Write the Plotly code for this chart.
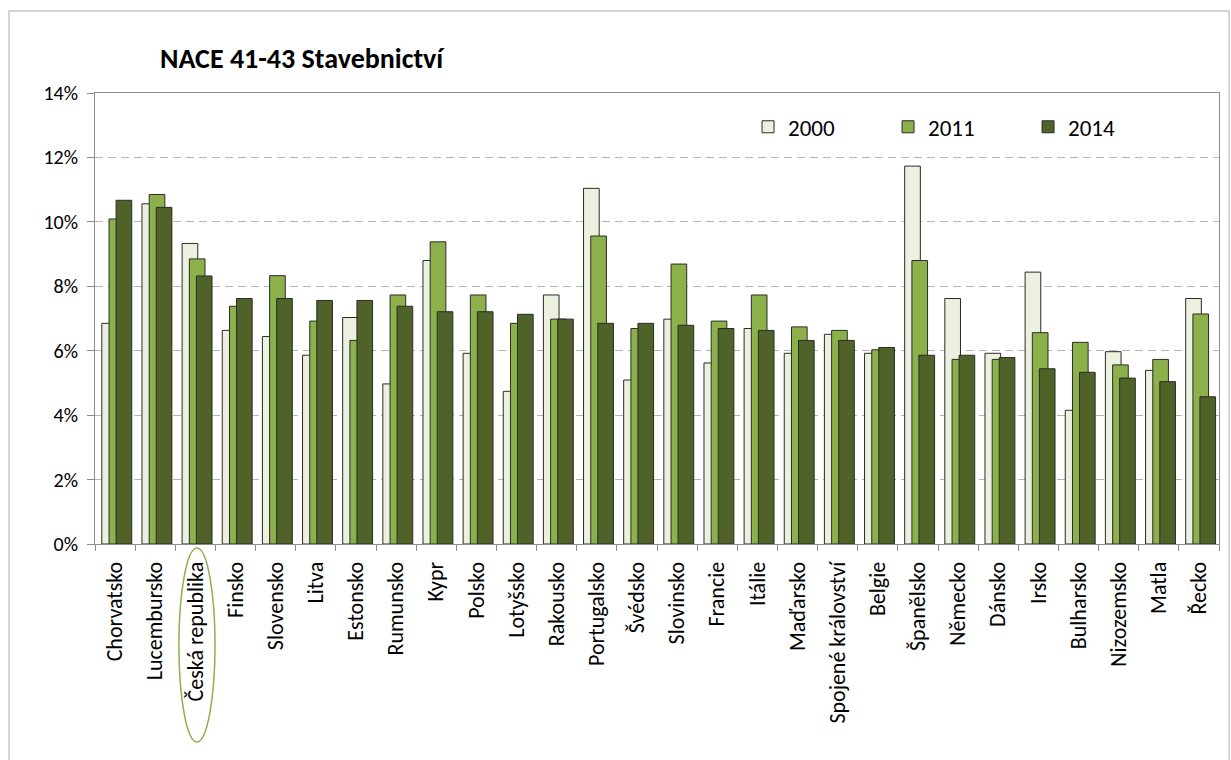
import plotly.graph_objects as go

countries = ["Chorvatsko", "Lucembursko", "Česká republika", "Finsko", "Slovensko", "Litva",
             "Estonsko", "Rumunsko", "Kypr", "Polsko", "Lotyšsko", "Rakousko", "Portugalsko",
             "Švédsko", "Slovinsko", "Francie", "Itálie", "Maďarsko", "Spojené království",
             "Belgie", "Španělsko", "Německo", "Dánsko", "Irsko", "Bulharsko", "Nizozemsko",
             "Matla", "Řecko"]

v2000 = [6.85, 10.56, 9.33, 6.63, 6.44, 5.86, 7.03, 4.97, 8.80, 5.92, 4.74, 7.73, 11.04,
         5.09, 6.98, 5.62, 6.69, 5.92, 6.51, 5.92, 11.73, 7.62, 5.92, 8.44, 4.15, 5.97,
         5.39, 7.62]
v2011 = [10.09, 10.85, 8.85, 7.38, 8.33, 6.92, 6.32, 7.73, 9.38, 7.73, 6.85, 6.98, 9.56,
         6.69, 8.69, 6.92, 7.73, 6.74, 6.63, 6.03, 8.80, 5.73, 5.73, 6.56, 6.26, 5.56,
         5.73, 7.14]
v2014 = [10.67, 10.45, 8.32, 7.62, 7.62, 7.56, 7.56, 7.38, 7.21, 7.21, 7.13, 6.98, 6.85,
         6.85, 6.79, 6.69, 6.63, 6.32, 6.32, 6.10, 5.86, 5.86, 5.79, 5.44, 5.33, 5.15,
         5.04, 4.57]

series = [("2000", v2000, "#EBF1DE", -0.33),
          ("2011", v2011, "#8CB04A", -0.15),
          ("2014", v2014, "#4F6228", 0.025)]

FONT = "Calibri, Carlito, Lato, sans-serif"

fig = go.Figure()
for name, vals, color, off in series:
    fig.add_trace(go.Bar(
        x=countries, y=vals, name=name,
        marker=dict(color=color, line=dict(color="#2b2b2b", width=1)),
        width=0.39, offset=off,
    ))

fig.update_layout(
    width=1231, height=760,
    barmode="overlay",
    paper_bgcolor="white", plot_bgcolor="white",
    margin=dict(l=95, r=12, t=93, b=216),
    font=dict(family=FONT, size=18, color="black"),
    title=dict(text="<b>NACE 41-43 Stavebnictví</b>", x=160/1231, xanchor="left",
               y=1 - 58/760, yanchor="middle", font=dict(family=FONT, size=28, color="black")),
    legend=dict(orientation="h", x=0.581, xanchor="left", y=0.925, yanchor="middle",
                entrywidth=95, entrywidthmode="pixels",
                font=dict(family=FONT, size=23, color="black"), bgcolor="rgba(0,0,0,0)"),
    showlegend=True,
)

fig.update_xaxes(
    type="category", showline=True, linecolor="#8c8c8c", linewidth=1, mirror=True,
    ticks="outside", tickson="boundaries", ticklen=6, tickcolor="#8c8c8c",
    tickangle=-90, showgrid=False, tickfont=dict(family=FONT, size=22, color="black"),
    ticklabelstandoff=8,
    range=[-0.5, len(countries) - 0.5],
)
fig.update_yaxes(
    range=[0, 14], dtick=2, ticksuffix="%", showline=True, linecolor="#8c8c8c",
    linewidth=1, mirror=True, ticks="outside", ticklen=7, tickcolor="#8c8c8c",
    showgrid=True, gridcolor="#b5b5b5", griddash="8px,5px", gridwidth=1,
    tickfont=dict(family=FONT, size=20, color="black"), zeroline=False,
    ticklabelstandoff=5,
)

# outer chart border
fig.add_shape(type="rect", xref="paper", yref="paper", x0=-0.0765, x1=1.009,
              y0=-0.6, y1=1.1818, line=dict(color="#c8c8c8", width=1.5), layer="below")
# highlight ellipse around Česká republika
fig.add_shape(type="circle", xref="x", yref="paper", x0=1.59, x1=2.49,
              y0=-0.439, y1=-0.009, line=dict(color="#8CB04A", width=1.5))

fig.write_html("out.html", config={"displayModeBar": False},
               post_script="document.body.style.margin='0px';")
